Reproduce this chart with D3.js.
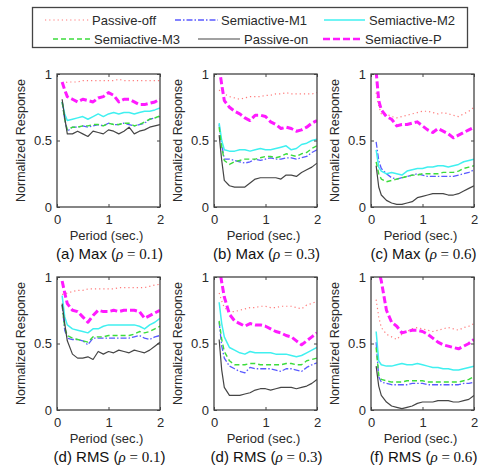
<!DOCTYPE html>
<html>
<head>
<meta charset="utf-8">
<script src="https://cdn.jsdelivr.net/npm/d3@7"></script>
<style>
  body { margin: 0; background: #fff; }
  svg { display: block; }
</style>
</head>
<body>
<div id="chart"></div>
<script>
// periods (sec.) shared by all panels
const periods = [0.1, 0.15, 0.2, 0.3, 0.4, 0.5, 0.6, 0.7, 0.8, 0.9, 1.0,
                 1.1, 1.2, 1.3, 1.4, 1.5, 1.6, 1.7, 1.8, 1.9, 2.0];

const seriesNames = ["Passive-off", "Semiactive-M1", "Semiactive-M2",
                     "Semiactive-M3", "Passive-on", "Semiactive-P"];

const captionLabels = ["(a) Max", "(b) Max", "(c) Max", "(d) RMS", "(d) RMS", "(f) RMS"];
const rhoLabels = ["0.1", "0.3", "0.6", "0.1", "0.3", "0.6"];

const xTicks = [0, 1, 2];
const yTicks = [0, 0.5, 1];

// each panel: rows in seriesNames order
const panelA = [
  [0.93,0.93,0.94,0.94,0.94,0.95,0.95,0.95,0.95,0.95,0.95,0.95,0.96,0.95,0.95,0.95,0.95,0.95,0.95,0.95,0.95],
  [0.79,0.66,0.57,0.60,0.60,0.61,0.60,0.61,0.62,0.61,0.63,0.62,0.62,0.63,0.62,0.61,0.62,0.63,0.66,0.67,0.68],
  [0.79,0.70,0.65,0.66,0.67,0.68,0.66,0.68,0.70,0.68,0.70,0.71,0.70,0.71,0.71,0.70,0.71,0.72,0.72,0.73,0.745],
  [0.79,0.66,0.58,0.60,0.60,0.61,0.61,0.62,0.62,0.61,0.63,0.62,0.62,0.63,0.63,0.61,0.62,0.64,0.66,0.67,0.685],
  [0.81,0.67,0.55,0.55,0.57,0.55,0.53,0.57,0.56,0.55,0.58,0.57,0.55,0.57,0.60,0.55,0.57,0.58,0.60,0.61,0.62],
  [0.94,0.88,0.83,0.81,0.79,0.81,0.80,0.79,0.82,0.83,0.86,0.84,0.79,0.81,0.81,0.79,0.77,0.77,0.78,0.79,0.81]
];
const panelB = [
  [0.88,0.86,0.85,0.83,0.82,0.81,0.82,0.83,0.83,0.83,0.84,0.84,0.85,0.85,0.86,0.85,0.85,0.85,0.85,0.85,0.86],
  [0.62,0.47,0.36,0.36,0.35,0.34,0.33,0.34,0.36,0.35,0.36,0.37,0.36,0.36,0.37,0.37,0.36,0.37,0.38,0.41,0.43],
  [0.63,0.50,0.43,0.42,0.42,0.43,0.43,0.42,0.43,0.44,0.43,0.43,0.44,0.45,0.46,0.43,0.44,0.47,0.48,0.50,0.51],
  [0.60,0.45,0.35,0.32,0.34,0.35,0.36,0.36,0.36,0.37,0.38,0.38,0.37,0.38,0.40,0.39,0.38,0.40,0.41,0.44,0.46],
  [0.54,0.35,0.20,0.16,0.15,0.15,0.15,0.18,0.21,0.22,0.22,0.22,0.22,0.21,0.24,0.24,0.23,0.26,0.28,0.30,0.33],
  [1.05,0.92,0.80,0.75,0.72,0.70,0.67,0.65,0.69,0.69,0.68,0.64,0.62,0.59,0.60,0.59,0.57,0.58,0.60,0.63,0.65]
];
const panelC = [
  [0.86,0.76,0.70,0.70,0.68,0.67,0.68,0.69,0.70,0.71,0.72,0.72,0.71,0.70,0.71,0.70,0.69,0.68,0.70,0.72,0.75],
  [0.49,0.35,0.29,0.25,0.22,0.21,0.22,0.23,0.24,0.25,0.24,0.23,0.23,0.23,0.23,0.23,0.23,0.24,0.25,0.26,0.28],
  [0.43,0.30,0.27,0.25,0.26,0.25,0.24,0.27,0.28,0.29,0.29,0.30,0.30,0.31,0.31,0.30,0.31,0.32,0.34,0.35,0.36],
  [0.34,0.25,0.21,0.19,0.20,0.21,0.22,0.23,0.24,0.24,0.25,0.25,0.25,0.25,0.26,0.26,0.26,0.27,0.29,0.30,0.31],
  [0.31,0.15,0.09,0.05,0.03,0.02,0.02,0.03,0.04,0.07,0.08,0.09,0.10,0.10,0.10,0.09,0.09,0.10,0.12,0.14,0.16],
  [1.02,0.80,0.73,0.68,0.66,0.61,0.62,0.62,0.63,0.64,0.61,0.58,0.56,0.59,0.57,0.55,0.52,0.54,0.56,0.58,0.60]
];
const panelD = [
  [0.87,0.87,0.88,0.89,0.90,0.90,0.91,0.91,0.91,0.91,0.91,0.91,0.92,0.92,0.92,0.92,0.92,0.92,0.93,0.94,0.945],
  [0.79,0.60,0.54,0.53,0.53,0.52,0.49,0.54,0.54,0.54,0.54,0.54,0.54,0.54,0.54,0.55,0.56,0.54,0.53,0.55,0.56],
  [0.86,0.70,0.64,0.61,0.60,0.59,0.58,0.61,0.61,0.63,0.64,0.64,0.64,0.64,0.64,0.64,0.63,0.61,0.64,0.66,0.69],
  [0.79,0.62,0.56,0.54,0.53,0.52,0.51,0.55,0.55,0.55,0.56,0.56,0.56,0.56,0.56,0.57,0.59,0.58,0.59,0.61,0.63],
  [0.80,0.65,0.52,0.42,0.39,0.39,0.40,0.38,0.44,0.42,0.44,0.43,0.45,0.44,0.43,0.45,0.44,0.43,0.45,0.48,0.51],
  [0.97,0.88,0.80,0.75,0.74,0.70,0.66,0.71,0.75,0.74,0.74,0.75,0.74,0.75,0.75,0.75,0.74,0.69,0.71,0.73,0.75]
];
const panelE = [
  [0.88,0.82,0.77,0.74,0.74,0.75,0.76,0.77,0.77,0.78,0.78,0.77,0.77,0.78,0.78,0.78,0.77,0.76,0.79,0.80,0.82],
  [0.66,0.48,0.39,0.33,0.31,0.29,0.28,0.32,0.31,0.31,0.31,0.31,0.30,0.29,0.31,0.31,0.30,0.29,0.32,0.34,0.355],
  [0.81,0.65,0.55,0.47,0.45,0.43,0.42,0.44,0.43,0.43,0.43,0.43,0.42,0.42,0.42,0.41,0.40,0.41,0.43,0.45,0.47],
  [0.67,0.53,0.44,0.37,0.34,0.34,0.34,0.35,0.35,0.34,0.34,0.34,0.34,0.34,0.35,0.35,0.34,0.34,0.37,0.38,0.39],
  [0.53,0.30,0.17,0.11,0.11,0.11,0.12,0.13,0.15,0.16,0.16,0.15,0.16,0.17,0.17,0.17,0.16,0.17,0.18,0.20,0.23],
  [1.08,0.96,0.85,0.72,0.67,0.65,0.63,0.65,0.64,0.64,0.63,0.61,0.59,0.58,0.56,0.55,0.52,0.49,0.52,0.55,0.58]
];
const panelF = [
  [0.83,0.70,0.62,0.57,0.55,0.53,0.57,0.59,0.61,0.62,0.61,0.60,0.59,0.60,0.61,0.62,0.61,0.60,0.62,0.63,0.65],
  [0.51,0.25,0.21,0.20,0.19,0.19,0.19,0.19,0.20,0.20,0.20,0.19,0.19,0.19,0.19,0.19,0.19,0.19,0.20,0.20,0.21],
  [0.59,0.37,0.34,0.33,0.33,0.34,0.35,0.34,0.34,0.35,0.34,0.33,0.32,0.32,0.31,0.31,0.30,0.30,0.31,0.32,0.33],
  [0.47,0.26,0.23,0.22,0.21,0.21,0.21,0.22,0.22,0.22,0.22,0.21,0.21,0.21,0.21,0.21,0.21,0.21,0.22,0.23,0.25],
  [0.33,0.18,0.11,0.06,0.03,0.02,0.01,0.02,0.03,0.05,0.06,0.06,0.06,0.07,0.07,0.07,0.06,0.06,0.07,0.08,0.11],
  [1.15,1.05,0.97,0.75,0.66,0.63,0.58,0.59,0.60,0.60,0.59,0.57,0.54,0.51,0.49,0.48,0.47,0.46,0.48,0.50,0.53]
];
const panels = [panelA, panelB, panelC, panelD, panelE, panelF];

// line styles, same order as seriesNames
const styles = [
  {color: "#ff7a7a", width: 1.2, dash: "1.2,3"},
  {color: "#5a5aff", width: 1.3, dash: "6,2,1.5,2"},
  {color: "#40f0f0", width: 1.5, dash: null},
  {color: "#3cdc3c", width: 1.4, dash: "5,3"},
  {color: "#454545", width: 1.2, dash: null},
  {color: "#ff1aff", width: 3, dash: "7,3"}
];

const W = 482, H = 465;
const colX = [57, 214, 371], rowY = [74, 277];
const pw = 103, ph = 133;
const textColor = "#2a2a2a";
const sans = "'Liberation Sans', Arial, sans-serif";
const serif = "'Liberation Serif', 'Times New Roman', serif";

const svg = d3.select("#chart")
    .append("svg")
    .attr("width", W)
    .attr("height", H)
    .style("font-family", sans);

// legend
const legendItems = [
  {x1: 45, x2: 89, tx: 92, y: 20},
  {x1: 175, x2: 218, tx: 221, y: 20},
  {x1: 324, x2: 365, tx: 369, y: 20},
  {x1: 53, x2: 90, tx: 94, y: 39},
  {x1: 198, x2: 240, tx: 244, y: 39},
  {x1: 323, x2: 362, tx: 365, y: 39}
];

const legend = svg.append("g").attr("class", "legend");
legend.append("rect")
    .attr("x", 32.5).attr("y", 7.5)
    .attr("width", 435).attr("height", 40)
    .attr("fill", "#fff")
    .attr("stroke", "#444")
    .attr("stroke-width", 1.3);

seriesNames.forEach((name, i) => {
  const it = legendItems[i], st = styles[i];
  legend.append("line")
      .attr("x1", it.x1).attr("x2", it.x2)
      .attr("y1", it.y).attr("y2", it.y)
      .attr("stroke", st.color)
      .attr("stroke-width", Math.min(st.width, 2.4))
      .attr("stroke-dasharray", st.dash);
  legend.append("text")
      .attr("x", it.tx).attr("y", it.y)
      .attr("dy", "0.35em")
      .attr("font-size", 13)
      .attr("fill", textColor)
      .text(name);
});

// panels
panels.forEach((rows, p) => {
  const col = p % 3, row = Math.floor(p / 3);
  const g = svg.append("g")
      .attr("transform", `translate(${colX[col]},${rowY[row]})`);

  const x = d3.scaleLinear().domain([0, 2]).range([0, pw]);
  const y = d3.scaleLinear().domain([0, 1]).range([ph, 0]);

  g.append("clipPath").attr("id", `clip${p}`)
    .append("rect").attr("width", pw).attr("height", ph);

  const line = d3.line()
      .x((d, j) => x(periods[j]))
      .y(d => y(d));

  const plot = g.append("g").attr("clip-path", `url(#clip${p})`);
  rows.forEach((vals, s) => {
    plot.append("path")
        .attr("fill", "none")
        .attr("stroke", styles[s].color)
        .attr("stroke-width", styles[s].width)
        .attr("stroke-dasharray", styles[s].dash)
        .attr("stroke-linejoin", "round")
        .attr("d", line(vals));
  });

  const fmt = d => String(d);

  const xb = g.append("g")
      .attr("transform", `translate(0,${ph})`)
      .call(d3.axisBottom(x).tickValues(xTicks).tickSize(-3).tickPadding(8).tickFormat(fmt));
  g.append("g")
      .call(d3.axisTop(x).tickValues(xTicks).tickSize(-3).tickFormat(""));
  const yl = g.append("g")
      .call(d3.axisLeft(y).tickValues(yTicks).tickSize(-3).tickPadding(5).tickFormat(fmt));
  g.append("g")
      .attr("transform", `translate(${pw},0)`)
      .call(d3.axisRight(y).tickValues(yTicks).tickSize(-3).tickFormat(""));

  g.selectAll(".domain").remove();
  g.selectAll(".tick line").attr("stroke", "#444");
  g.selectAll(".tick text")
      .attr("font-family", sans)
      .attr("font-size", 13)
      .attr("fill", textColor);

  g.append("rect")
      .attr("width", pw).attr("height", ph)
      .attr("fill", "none")
      .attr("stroke", "#444")
      .attr("stroke-width", 1.3);

  g.append("text")
      .attr("transform", `translate(-36,${ph / 2}) rotate(-90)`)
      .attr("text-anchor", "middle")
      .attr("dy", "0.35em")
      .attr("font-size", 12.5)
      .attr("fill", textColor)
      .text("Normalized Response");

  g.append("text")
      .attr("x", pw / 2 - 2).attr("y", ph + 33)
      .attr("text-anchor", "middle")
      .attr("font-size", 13)
      .attr("fill", textColor)
      .text("Period (sec.)");

  const cap = g.append("text")
      .attr("x", pw / 2 + 1).attr("y", ph + 52)
      .attr("text-anchor", "middle")
      .attr("font-size", 15)
      .attr("fill", "#111");
  cap.append("tspan").text(captionLabels[p] + " (");
  cap.append("tspan").attr("font-family", serif).attr("font-style", "italic").text("\u03C1");
  cap.append("tspan").attr("font-family", serif).text(" = " + rhoLabels[p]);
  cap.append("tspan").text(")");
});
</script>
</body>
</html>
